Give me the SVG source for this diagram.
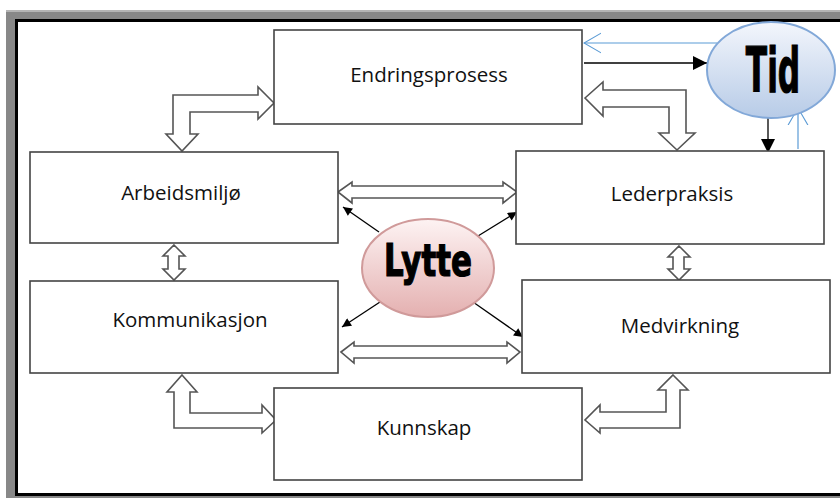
<svg xmlns="http://www.w3.org/2000/svg" width="840" height="498" viewBox="0 0 840 498">
<defs>
<style>
.box{fill:#fff;stroke:#444;stroke-width:1.6}
.lbl{font-family:"Open Sans","Liberation Sans",sans-serif;font-size:20.5px;fill:#111;text-anchor:middle}
.blk{fill:#fff;stroke:#555;stroke-width:1.6;stroke-linejoin:miter}
.big{font-family:"DejaVu Sans Condensed","DejaVu Sans",sans-serif;font-weight:bold;fill:#000;stroke:#000;stroke-width:1.2;text-anchor:middle}
.ln{stroke:#000;stroke-width:1.3;fill:none}
.blue{stroke:#5b9bd5;stroke-width:1.2;fill:none}
</style>
<marker id="ah" viewBox="0 0 10 10" refX="10" refY="5" markerWidth="14" markerHeight="14" markerUnits="userSpaceOnUse" orient="auto">
<path d="M0,0 L10,5 L0,10 Z" fill="#000"/>
</marker>
<marker id="ahs" viewBox="0 0 10 10" refX="10" refY="5" markerWidth="10" markerHeight="9" markerUnits="userSpaceOnUse" orient="auto">
<path d="M0,0 L10,5 L0,10 Z" fill="#000"/>
</marker>
<marker id="ahb" viewBox="0 0 20 24" refX="19" refY="12" markerWidth="18" markerHeight="22" markerUnits="userSpaceOnUse" orient="auto">
<path d="M0,1 L19,12 L0,23" fill="none" stroke="#5b9bd5" stroke-width="1.2"/>
</marker>
<linearGradient id="gTid" x1="0" y1="0" x2="0" y2="1">
<stop offset="0" stop-color="#f3f6fc"/>
<stop offset="1" stop-color="#b7cbe7"/>
</linearGradient>
<linearGradient id="gLyt" x1="0" y1="0" x2="0" y2="1">
<stop offset="0" stop-color="#fdf3f3"/>
<stop offset="1" stop-color="#e4b0b0"/>
</linearGradient>
</defs>

<g id="frame">
<rect x="6" y="10" width="834" height="488" fill="#888"/>
<rect x="6" y="10" width="834" height="2" fill="#b5b5b5"/>
<rect x="15" y="19" width="825" height="477" fill="#000"/>
<rect x="18" y="22" width="822" height="471" fill="#fff"/>
</g>

<g id="connectors">
<path class="blk" d="M274,103 L258,87 L258,95 L173,95 L173,134 L166,134 L182,151 L198,134 L190,134 L190,112 L258,112 L258,119 Z"/>
<path class="blk" d="M585,98 L603,82 L603,90 L686,90 L686,133 L695,133 L677,150 L659,133 L669,133 L669,107 L603,107 L603,116 Z"/>
<path class="blk" d="M174,245 L185,256 L179,256 L179,269 L185,269 L174,280 L163,269 L168,269 L168,256 L163,256 Z"/>
<path class="blk" d="M679,246 L690,257 L684,257 L684,269 L690,269 L679,280 L668,269 L673,269 L673,257 L668,257 Z"/>
<path class="blk" d="M338,192 L352,182 L352,186 L503,186 L503,182 L517,192 L503,203 L503,198 L352,198 L352,203 Z"/>
<path class="blk" d="M341,352 L354,342 L354,346 L507,346 L507,342 L520,352 L507,363 L507,358 L354,358 L354,363 Z"/>
<path class="blk" d="M182,375 L197,392 L190,392 L190,413 L262,413 L262,405 L276,420 L262,433 L262,428 L174,428 L174,392 L167,392 Z"/>
<path class="blk" d="M673,375 L688,390 L680,390 L680,428 L600,428 L600,433 L585,420 L600,405 L600,412 L666,412 L666,390 L658,390 Z"/>
<line class="ln" x1="379" y1="232" x2="343" y2="207" marker-end="url(#ahs)"/>
<line class="ln" x1="478" y1="236" x2="517" y2="212" marker-end="url(#ahs)"/>
<line class="ln" x1="380" y1="302" x2="342" y2="327" marker-end="url(#ahs)"/>
<line class="ln" x1="473" y1="302" x2="523" y2="337" marker-end="url(#ahs)"/>
<line class="blue" x1="717" y1="43" x2="584" y2="43" marker-end="url(#ahb)"/>
<line class="ln" x1="584" y1="63" x2="707" y2="63" marker-end="url(#ah)"/>
<line class="ln" x1="768" y1="117" x2="768" y2="153" marker-end="url(#ah)"/>
<line class="blue" x1="798" y1="149" x2="798" y2="108" marker-end="url(#ahb)"/>
</g>

<g id="n-endringsprosess">
<rect class="box" x="274" y="30" width="308" height="94"/>
<text class="lbl" x="429" y="82">Endringsprosess</text>
</g>
<g id="n-arbeidsmiljo">
<rect class="box" x="30" y="152" width="308" height="91"/>
<text class="lbl" x="181" y="200">Arbeidsmiljø</text>
</g>
<g id="n-lederpraksis">
<rect class="box" x="516" y="151" width="308" height="93"/>
<text class="lbl" x="672" y="201">Lederpraksis</text>
</g>
<g id="n-kommunikasjon">
<rect class="box" x="30" y="281" width="308" height="92"/>
<text class="lbl" x="190" y="327">Kommunikasjon</text>
</g>
<g id="n-medvirkning">
<rect class="box" x="522" y="280" width="308" height="93"/>
<text class="lbl" x="680" y="333">Medvirkning</text>
</g>
<g id="n-kunnskap">
<rect class="box" x="274" y="388" width="308" height="92"/>
<text class="lbl" x="424" y="435">Kunnskap</text>
</g>
<g id="n-tid">
<ellipse cx="771" cy="70" rx="64" ry="48" fill="url(#gTid)" stroke="#82a8d8" stroke-width="2"/>
<text class="big" transform="translate(773,92) scale(0.56,1)" x="0" y="0" font-size="62">Tid</text>
</g>
<g id="n-lytte">
<ellipse cx="428" cy="268" rx="66" ry="49" fill="url(#gLyt)" stroke="#d09a9a" stroke-width="2"/>
<text class="big" x="428" y="276" font-size="44" textLength="88" lengthAdjust="spacingAndGlyphs">Lytte</text>
</g>
</svg>
